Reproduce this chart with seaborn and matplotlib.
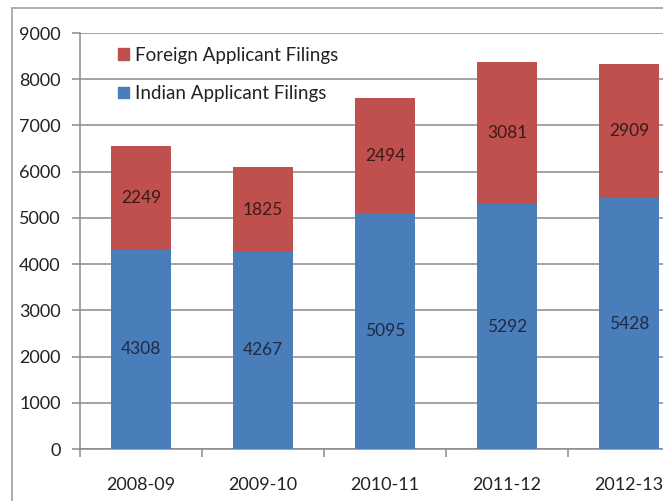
import numpy as np
import pandas as pd
import matplotlib.pyplot as plt
import matplotlib.patches as patches
import seaborn as sns

years = ['2008-09', '2009-10', '2010-11', '2011-12', '2012-13']
indian = [4308, 4267, 5095, 5292, 5428]
foreign = [2249, 1825, 2494, 3081, 2909]

blue = '#4a7ebb'
red = '#c0504d'

df = pd.DataFrame({'year': years, 'indian': indian, 'foreign': foreign})
df['total'] = df['indian'] + df['foreign']

sns.set_style("white")
plt.rcParams['font.family'] = ['Lato', 'DejaVu Sans']

fig = plt.figure(figsize=(6.63, 5.01), dpi=100)
ax = fig.add_axes([80/663, 52/501, 610/663, 416/501])

# stacked bars: totals in red first, then Indian share over it
sns.barplot(data=df, x='year', y='total', order=years, color=red,
            width=0.49, saturation=1, linewidth=0, ax=ax, zorder=2)
sns.barplot(data=df, x='year', y='indian', order=years, color=blue,
            width=0.49, saturation=1, linewidth=0, ax=ax, zorder=3)

for i, row in df.iterrows():
    ax.text(i, row['indian'] / 2, str(row['indian']), ha='center', va='center',
            fontsize=12.5, color='#1f2a44', zorder=5)
    ax.text(i, row['indian'] + row['foreign'] / 2, str(row['foreign']), ha='center',
            va='center', fontsize=12.5, color='#3a1a1a', zorder=5)

ax.set_ylim(0, 9000)
ax.set_xlim(-0.5, 4.5)
ax.set_yticks(np.arange(0, 9001, 1000))
ax.yaxis.grid(True, color='#8a8a8a', linewidth=1.1, zorder=0)
ax.set_axisbelow(True)
ax.set_xlabel('')
ax.set_ylabel('')

for s in ['top', 'right']:
    ax.spines[s].set_visible(False)
for s in ['left', 'bottom']:
    ax.spines[s].set_color('#8a8a8a')
    ax.spines[s].set_linewidth(1.1)

ax.tick_params(axis='y', which='major', length=6, width=1.1, color='#8a8a8a',
               labelsize=13, pad=8, left=True, labelcolor='#222222')
ax.tick_params(axis='x', which='major', length=0, labelsize=13, pad=20,
               labelcolor='#222222')
ax.set_xticks(np.arange(-0.5, 4.6, 1), minor=True)
ax.tick_params(axis='x', which='minor', length=6, width=1.1, color='#8a8a8a', bottom=True)

handles = [patches.Patch(color=red), patches.Patch(color=blue)]
ax.legend(handles, ['Foreign Applicant Filings', 'Indian Applicant Filings'],
          loc='upper left', bbox_to_anchor=(0.035, 1.008), frameon=False,
          fontsize=13.5, handlelength=0.6, handleheight=0.6, handletextpad=0.3,
          labelspacing=1.15, labelcolor='#222222')

# outer chart frame
fig.add_artist(patches.Rectangle((12/663, -0.1), 1.2, 1.1 - 8/501,
                                 transform=fig.transFigure, fill=False,
                                 edgecolor='#a0a0a0', linewidth=1.2))

fig.savefig('out.png', dpi=100)
